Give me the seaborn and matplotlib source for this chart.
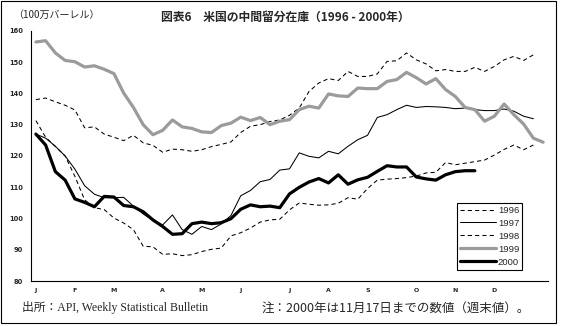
import matplotlib
matplotlib.use('Agg')
import matplotlib.pyplot as plt
import seaborn as sns
import numpy as np
from matplotlib.patches import Rectangle
from matplotlib.lines import Line2D

# ---- data (million barrels, weekly) ----
years = ['1996', '1997', '1998', '1999', '2000']

s1996 = [131.3, 126.0, 123.0, 120.0, 113.5, 106.0, 103.5, 102.9, 100.2, 98.6,
         96.5, 91.2, 91.0, 88.6, 88.8, 88.2, 88.5, 89.5, 90.2, 90.6,
         94.5, 95.5, 97.0, 98.9, 99.6, 99.8, 102.8, 105.0, 104.6, 104.3,
         104.4, 104.9, 106.7, 106.2, 109.6, 112.3, 112.6, 112.8, 113.1, 113.6,
         114.6, 114.8, 117.9, 117.2, 117.7, 118.2, 118.7, 120.3, 122.1, 123.5,
         122.0, 123.5]

s1997 = [127.0, 125.7, 123.1, 120.0, 115.8, 110.5, 107.8, 106.7, 106.7, 106.8,
         104.0, 101.5, 99.5, 98.0, 101.2, 96.5, 95.0, 97.5, 96.5, 98.3,
         101.0, 107.3, 109.0, 111.8, 112.5, 115.5, 115.9, 121.0, 119.9, 119.4,
         121.5, 120.7, 123.1, 125.2, 126.6, 132.3, 133.2, 134.8, 136.2, 135.5,
         135.8, 135.7, 135.5, 135.1, 135.3, 134.8, 134.5, 134.5, 135.0, 134.3,
         132.7, 131.9]

s1998 = [138.0, 138.5, 137.3, 136.2, 134.7, 129.0, 129.3, 127.0, 126.0, 124.9,
         126.6, 124.2, 123.4, 121.2, 122.2, 122.0, 121.5, 122.0, 123.0, 123.7,
         124.5, 127.5, 129.5, 130.0, 131.0, 131.5, 133.0, 135.3, 140.6, 143.3,
         144.7, 144.1, 147.0, 145.4, 145.4, 146.2, 150.2, 150.4, 152.9, 150.7,
         149.4, 147.2, 147.6, 147.0, 147.0, 148.3, 147.0, 148.6, 150.7, 151.8,
         150.5, 152.3]

s1999 = [156.4, 156.8, 152.9, 150.5, 150.1, 148.4, 148.8, 147.7, 146.3, 140.1,
         135.5, 130.0, 126.8, 128.2, 131.5, 129.3, 128.8, 127.7, 127.5, 129.7,
         130.5, 132.4, 131.3, 132.3, 130.0, 131.1, 131.6, 134.8, 135.9, 135.3,
         139.8, 139.2, 139.0, 141.7, 141.5, 141.5, 143.8, 144.4, 146.7, 145.0,
         143.0, 144.7, 141.2, 139.0, 135.5, 134.8, 131.1, 132.7, 136.6, 133.2,
         130.2, 125.7, 124.4]

s2000 = [127.0, 123.5, 115.0, 112.3, 106.3, 105.2, 103.8, 107.1, 106.9, 104.2,
         103.8, 102.2, 99.6, 97.5, 95.0, 95.2, 98.4, 98.9, 98.4, 98.7,
         100.0, 103.0, 104.4, 103.8, 104.0, 103.5, 107.9, 110.0, 111.7, 112.8,
         111.4, 114.0, 111.0, 112.4, 113.2, 115.1, 116.9, 116.5, 116.5, 113.3,
         112.7, 112.3, 114.0, 115.0, 115.3, 115.3]

series = [s1996, s1997, s1998, s1999, s2000]

month_labels = ['J', 'F', 'M', 'A', 'M', 'J', 'J', 'A', 'S', 'O', 'N', 'D']
month_weeks = [0, 4, 8, 13, 17, 21, 26, 30, 34, 39, 43, 47]
n_weeks = 53
y_ticks = [80, 90, 100, 110, 120, 130, 140, 150, 160]

title = '図表6\u3000米国の中間留分在庫（1996 - 2000年）'
unit_label = '（100万バーレル）'
source_text = '出所：API, Weekly Statistical Bulletin'
note_text = '注：2000年は11月17日までの数値（週末値）。'

# ---- styles ----
styles = {
    '1996': dict(color='black', linewidth=0.75, linestyle=(0, (4, 3))),
    '1997': dict(color='black', linewidth=0.75, linestyle='-'),
    '1998': dict(color='black', linewidth=0.75, linestyle=(0, (4, 3))),
    '1999': dict(color='#9b9b9b', linewidth=2.3, linestyle='-'),
    '2000': dict(color='black', linewidth=2.3, linestyle='-'),
}

sns.set_style('white')
plt.rcParams['font.family'] = ['DejaVu Sans', 'Noto Sans CJK JP']

W, H = 562, 326
fig = plt.figure(figsize=(W / 100, H / 100), dpi=100)
ax = fig.add_axes([31 / W, 1 - 281.3 / H, 517 / W, 250.6 / H])

for yr, vals in zip(years, series):
    sns.lineplot(x=np.arange(len(vals)), y=vals, ax=ax, legend=False,
                 solid_joinstyle='round', **styles[yr])

ax.set_xlim(-0.5, n_weeks - 0.5)
ax.set_ylim(80, 160)
ax.set_xlabel('')
ax.set_ylabel('')

# category boundary ticks, no labels
ax.set_xticks(np.arange(-0.5, n_weeks, 1.0))
ax.set_xticklabels([])
ax.tick_params(axis='x', which='major', direction='in', length=3, width=0.8,
               color='black')
# month labels as minor ticks
ax.set_xticks(month_weeks, minor=True)
ax.set_xticklabels(month_labels, minor=True, fontsize=4.5, fontweight='bold')
ax.tick_params(axis='x', which='minor', length=0, pad=5)

ax.set_yticks(y_ticks)
ax.set_yticklabels([str(v) for v in y_ticks], fontsize=4.8, fontweight='bold')
ax.tick_params(axis='y', direction='inout', length=4, width=0.8, pad=4,
               color='black')

for s in ['top', 'right']:
    ax.spines[s].set_visible(False)
for s in ['left', 'bottom']:
    ax.spines[s].set_color('black')
    ax.spines[s].set_linewidth(0.8)
ax.grid(False)
ax.set_facecolor('white')

handles = [Line2D([0], [0], **styles[yr]) for yr in years]
leg = ax.legend(handles, years, loc='upper right',
                bbox_to_anchor=((522 - 31) / 517, (281.3 - 203) / 250.6),
                frameon=True, fancybox=False, shadow=False,
                prop={'family': 'Liberation Sans', 'size': 6.8},
                handlelength=3.9, handletextpad=0.15, labelspacing=0.42,
                borderpad=0.3, borderaxespad=0)
leg.get_frame().set_edgecolor('black')
leg.get_frame().set_linewidth(0.8)
leg.get_frame().set_facecolor('white')
leg.get_frame().set_alpha(1)

# texts
fig.text(285 / W, 1 - 17 / H, title, ha='center', va='center',
         fontsize=8.5, fontweight='bold', family=['Noto Sans CJK JP'])
fig.text(13 / W, 1 - 15 / H, unit_label, ha='left', va='center',
         fontsize=7.2, family=['Noto Sans CJK JP'])
fig.text(22 / W, 1 - 308 / H, source_text, ha='left', va='center',
         fontsize=8.5, family=['Liberation Serif', 'Noto Sans CJK JP'])
fig.text(262 / W, 1 - 308 / H, note_text, ha='left', va='center',
         fontsize=9, family=['Noto Sans CJK JP'])

# outer frame
fig.patches.append(Rectangle((1 / W, 3 / H), 555 / W, 322 / H,
                             transform=fig.transFigure, fill=False,
                             edgecolor='black', linewidth=0.8))

fig.savefig('out.png', dpi=100)
